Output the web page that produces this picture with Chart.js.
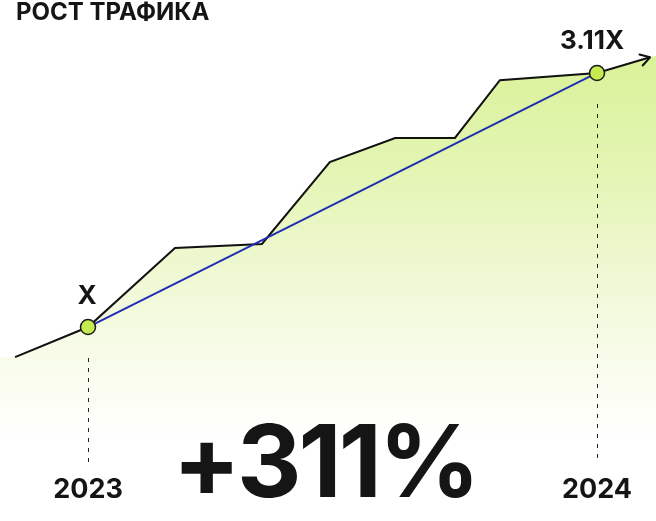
<!DOCTYPE html>
<html>
<head>
<meta charset="utf-8">
<script src="https://cdn.jsdelivr.net/npm/chart.js@4"></script>
<style>
  html, body { margin: 0; padding: 0; background: #fff; }
  #wrap { position: relative; width: 656px; height: 521px; overflow: hidden; font-family: Inter, "Noto Sans", sans-serif; color: #151515; }
  #wrap canvas { position: absolute; left: 0; top: 0; }
  .txt { position: absolute; line-height: 1; font-weight: 700; white-space: nowrap; }
  .c { transform: translateX(-50%); }
</style>
</head>
<body>
<div id="wrap">
  <canvas id="traffic" width="656" height="521"></canvas>
  <div class="txt" style="left:16px; top:0px; font-size:24px;">РОСТ ТРАФИКА</div>
  <div class="txt c" id="lblStart" style="left:87px; top:282px; font-size:26px;">X</div>
  <div class="txt c" id="lblEnd" style="left:592px; top:27px; font-size:26px;">3.11X</div>
  <div class="txt c" style="left:88px; top:475px; font-size:27px;">2023</div>
  <div class="txt c" style="left:597px; top:475px; font-size:27px;">2024</div>
  <div class="txt c" style="left:325px; top:411px; font-size:100px; letter-spacing:-3px;">+311%</div>
</div>
<script>
// months since start of 2023, traffic relative to the 2023 level
const trafficX = [-1.72, 0, 2.05, 4.10, 5.70, 7.24, 8.65, 9.71, 12, 13.25];
const trafficY = [0.75, 1, 1.656, 1.69, 2.37, 2.57, 2.57, 3.05, 3.11, 3.24];
// shaded area runs to the edges
const areaX = [-2.08, -1.72, 0, 2.05, 4.10, 5.70, 7.24, 8.65, 9.71, 12, 13.25, 13.4];
const areaY = [0.75, 0.75, 1, 1.656, 1.69, 2.37, 2.57, 2.57, 3.05, 3.11, 3.24, 3.255];
const years = ['2023', '2024'];
const trendX = [0, 12];
const trendY = [1, 3.11];

const toPts = (xs, ys) => xs.map((x, i) => ({ x: x, y: ys[i] }));

const extras = {
  id: 'extras',
  afterDatasetsDraw(chart) {
    const { ctx, scales: { x, y } } = chart;
    // dashed drops from the two marks
    ctx.save();
    ctx.strokeStyle = '#222';
    ctx.lineWidth = 1;
    ctx.setLineDash([4, 6]);
    trendX.forEach((v, i) => {
      const px = Math.round(x.getPixelForValue(v)) + 0.5;
      ctx.beginPath();
      ctx.moveTo(px, y.getPixelForValue(trendY[i]) + 31);
      ctx.lineTo(px, 463);
      ctx.stroke();
    });
    ctx.restore();

    // arrow head on the traffic line
    const n = trafficX.length;
    const x1 = x.getPixelForValue(trafficX[n - 2]), y1 = y.getPixelForValue(trafficY[n - 2]);
    const x2 = x.getPixelForValue(trafficX[n - 1]), y2 = y.getPixelForValue(trafficY[n - 1]);
    const a = Math.atan2(y2 - y1, x2 - x1);
    const len = 11;
    ctx.save();
    ctx.strokeStyle = '#111';
    ctx.lineWidth = 2;
    ctx.lineCap = 'round';
    ctx.lineJoin = 'round';
    ctx.beginPath();
    ctx.moveTo(x2 - len * Math.cos(a - 0.55), y2 - len * Math.sin(a - 0.55));
    ctx.lineTo(x2, y2);
    ctx.lineTo(x2 - len * Math.cos(a + 0.55), y2 - len * Math.sin(a + 0.55));
    ctx.stroke();
    ctx.restore();
  }
};

new Chart(document.getElementById('traffic'), {
  type: 'line',
  data: {
    datasets: [
      {
        label: 'marks',
        data: toPts(trendX, trendY),
        showLine: false,
        pointRadius: 7.5,
        pointBackgroundColor: '#c5eb50',
        pointBorderColor: '#1a1a1a',
        pointBorderWidth: 1.5,
        order: 0
      },
      {
        label: 'trend',
        data: toPts(trendX, trendY),
        borderColor: '#1e2fb2',
        borderWidth: 2,
        pointRadius: 0,
        fill: false,
        order: 1
      },
      {
        label: 'traffic',
        data: toPts(trafficX, trafficY),
        borderColor: '#111',
        borderWidth: 2,
        pointRadius: 0,
        fill: false,
        tension: 0,
        order: 2
      },
      {
        label: 'area',
        data: toPts(areaX, areaY),
        borderWidth: 0,
        pointRadius: 0,
        fill: 'start',
        backgroundColor: (c) => {
          const area = c.chart.chartArea;
          if (!area) return '#eaf7c4';
          const g = c.chart.ctx.createLinearGradient(0, 60, 0, 440);
          g.addColorStop(0, '#daf29a');
          g.addColorStop(0.3, '#e4f5b4');
          g.addColorStop(0.63, '#f2f9db');
          g.addColorStop(0.95, '#fefffa');
          g.addColorStop(1, '#ffffff');
          return g;
        },
        order: 3
      }
    ]
  },
  options: {
    responsive: false,
    animation: false,
    layout: { padding: 0, autoPadding: false },
    plugins: { legend: { display: false }, tooltip: { enabled: false } },
    scales: {
      x: { type: 'linear', min: -2.075, max: 13.39, display: false },
      y: { min: -0.611, max: 3.716, display: false }
    }
  },
  plugins: [extras]
});
</script>
</body>
</html>
